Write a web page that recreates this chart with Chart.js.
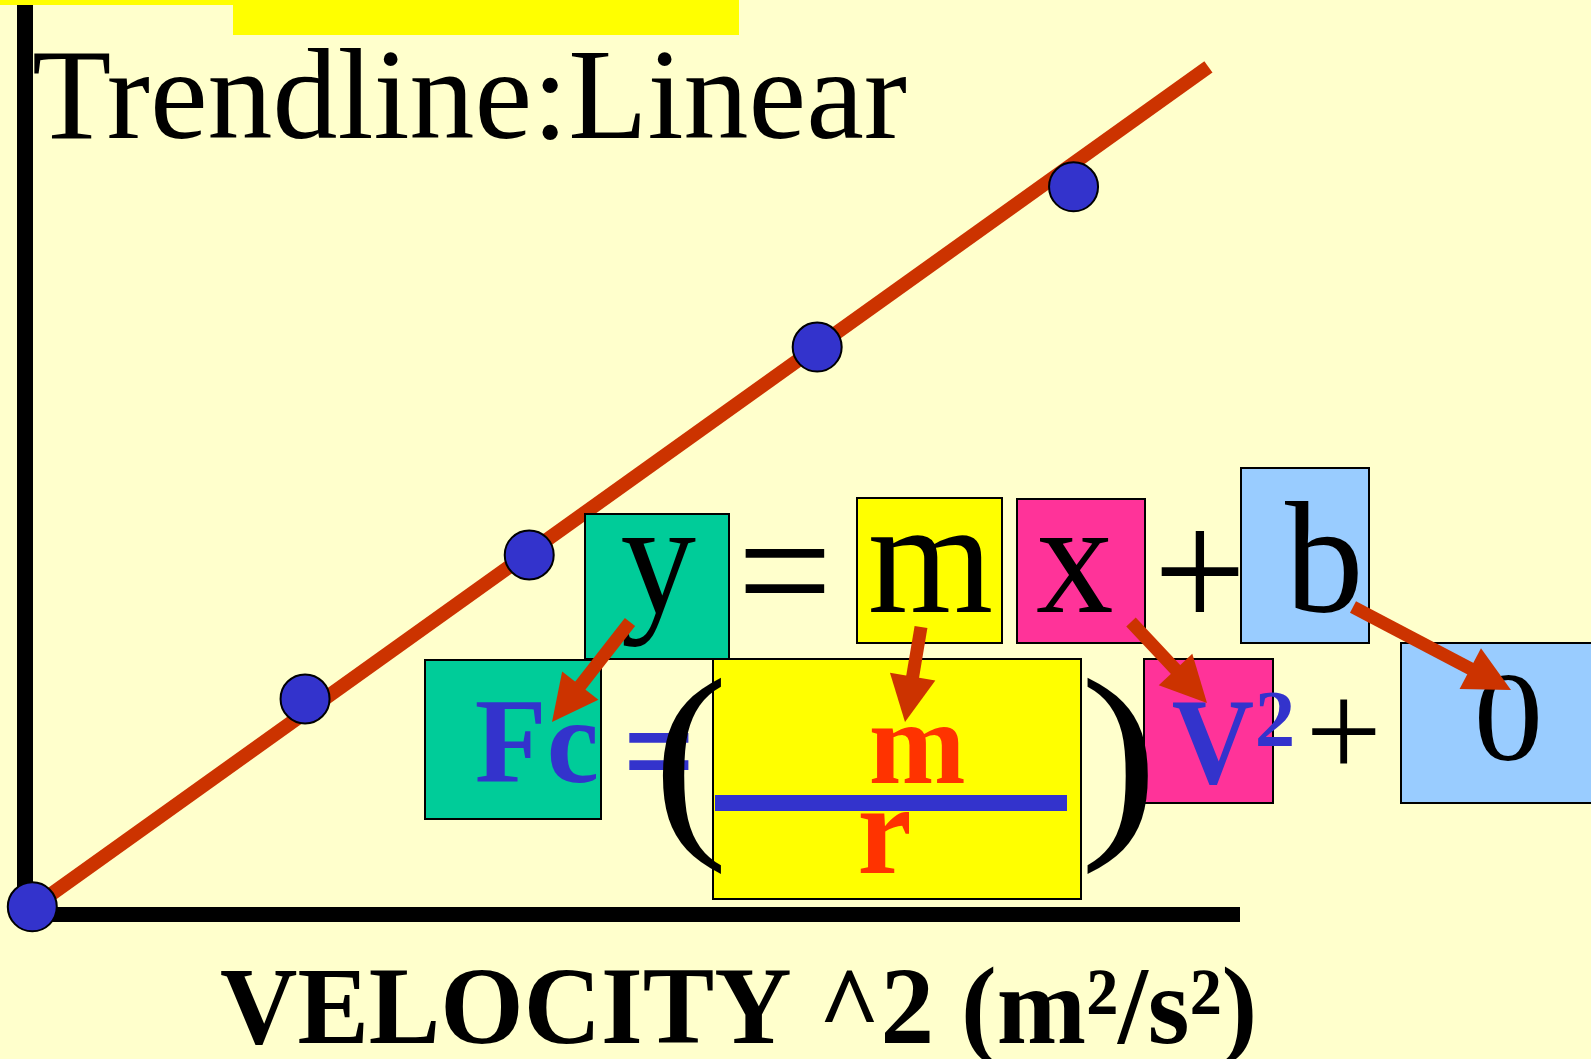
<!DOCTYPE html>
<html>
<head>
<meta charset="utf-8">
<title>Trendline: Linear</title>
<script src="https://cdn.jsdelivr.net/npm/chart.js@4.4.0/dist/chart.umd.min.js"></script>
<style>
  html, body { margin: 0; padding: 0; background: #FFFFCC; overflow: hidden; }
  #grafico { display: block; }
</style>
</head>
<body>
<canvas id="grafico" width="1591" height="1059"></canvas>
<script>
// dados (velocidade^2 x força centrípeta, unidades arbitrárias)
var velocidade2 = [0.6, 23.05, 41.5, 65.2, 86.3];
var forca = [0.9, 23.8, 39.65, 62.55, 80.2];

// linha de tendência (inicio e fim)
var linhaX = [0.6, 97.4];
var linhaY = [0.8, 93.4];

// limites dos eixos
var eixoX = [0, 100];
var eixoY = [0, 100];

var titulo = 'Trendline:Linear';
var tituloEixoX = 'VELOCITY ^2 (m\u00B2/s\u00B2)';

var FONTE = '"Liberation Serif", "Times New Roman", serif';
var VERMELHO = '#CC3300';

// desenha o texto encaixando a "tinta" numa caixa (esq, topo, dir, base)
function textoTinta(ctx, texto, peso, cor, esq, topo, dir, base) {
  ctx.font = peso + ' 100px ' + FONTE;
  ctx.textAlign = 'left';
  ctx.textBaseline = 'alphabetic';
  var m = ctx.measureText(texto);
  var larg = m.actualBoundingBoxLeft + m.actualBoundingBoxRight;
  var alt = m.actualBoundingBoxAscent + m.actualBoundingBoxDescent;
  var sx = (dir - esq) / larg;
  var sy = (base - topo) / alt;
  ctx.save();
  ctx.translate(esq + m.actualBoundingBoxLeft * sx, topo + m.actualBoundingBoxAscent * sy);
  ctx.scale(sx, sy);
  ctx.fillStyle = cor;
  ctx.fillText(texto, 0, 0);
  ctx.restore();
}

// texto pela altura das maiusculas, esticado na horizontal
function textoCap(ctx, texto, peso, cor, alturaCap, esq, dir, linhaBase) {
  ctx.font = peso + ' 100px ' + FONTE;
  ctx.textAlign = 'left';
  ctx.textBaseline = 'alphabetic';
  var tam = alturaCap / (ctx.measureText('H').actualBoundingBoxAscent / 100);
  ctx.font = peso + ' ' + tam + 'px ' + FONTE;
  var m = ctx.measureText(texto);
  var sx = (dir - esq) / (m.actualBoundingBoxLeft + m.actualBoundingBoxRight);
  ctx.save();
  ctx.translate(esq + m.actualBoundingBoxLeft * sx, linhaBase);
  ctx.scale(sx, 1);
  ctx.fillStyle = cor;
  ctx.fillText(texto, 0, 0);
  ctx.restore();
}

function caixa(ctx, x1, y1, x2, y2, cor) {
  ctx.fillStyle = cor;
  ctx.fillRect(x1, y1, x2 - x1, y2 - y1);
  ctx.strokeStyle = '#000000';
  ctx.lineWidth = 2;
  ctx.strokeRect(x1, y1, x2 - x1, y2 - y1);
}

function seta(ctx, x1, y1, x2, y2) {
  var dx = x2 - x1, dy = y2 - y1;
  var len = Math.hypot(dx, dy);
  var ux = dx / len, uy = dy / len;
  var cab = 46, meia = 23;
  var bx = x2 - ux * cab, by = y2 - uy * cab;
  ctx.strokeStyle = VERMELHO;
  ctx.lineWidth = 13;
  ctx.lineCap = 'butt';
  ctx.beginPath();
  ctx.moveTo(x1, y1);
  ctx.lineTo(bx + ux * 3, by + uy * 3);
  ctx.stroke();
  ctx.fillStyle = VERMELHO;
  ctx.beginPath();
  ctx.moveTo(x2, y2);
  ctx.lineTo(bx - uy * meia, by + ux * meia);
  ctx.lineTo(bx + uy * meia, by - ux * meia);
  ctx.closePath();
  ctx.fill();
}

var pluginSlide = {
  id: 'slide',
  beforeDatasetsDraw: function (chart) {
    var ctx = chart.ctx;
    var x0 = chart.scales.x.getPixelForValue(eixoX[0]);
    var xFim = chart.scales.x.getPixelForValue(eixoX[1]);
    var y0 = chart.scales.y.getPixelForValue(eixoY[0]);
    var yTopo = chart.scales.y.getPixelForValue(eixoY[1]);

    ctx.save();
    // faixas amarelas do topo
    ctx.fillStyle = '#FFFF00';
    ctx.fillRect(0, 0, 233, 5);
    ctx.fillRect(233, 0, 506, 35);

    // eixos
    ctx.fillStyle = '#000000';
    ctx.fillRect(x0 - 8, yTopo - 2, 16, y0 + 7 - (yTopo - 2));
    ctx.fillRect(x0 - 8, y0 - 8, xFim - (x0 - 8), 15);

    textoCap(ctx, titulo, 'normal', '#000000', 84, 34, 906, 138);
    ctx.restore();
  },
  afterDatasetsDraw: function (chart) {
    var ctx = chart.ctx;
    ctx.save();

    // y = m x + b
    caixa(ctx, 585, 514, 729, 659, '#00CC99');
    caixa(ctx, 857, 498, 1002, 643, '#FFFF00');
    caixa(ctx, 1017, 499, 1145, 643, '#FF3399');
    caixa(ctx, 1241, 468, 1369, 643, '#99CCFF');
    textoTinta(ctx, 'y', 'normal', '#000', 622, 538, 696, 647);
    textoTinta(ctx, '=', 'normal', '#000', 744, 548, 825, 592);
    textoTinta(ctx, 'm', 'normal', '#000', 871, 535, 992, 612);
    textoTinta(ctx, 'x', 'normal', '#000', 1036, 538, 1112, 612);
    textoTinta(ctx, '+', 'normal', '#000', 1160, 530, 1239, 612);
    textoTinta(ctx, 'b', 'normal', '#000', 1285, 502, 1359, 613);

    // Fc = (m/r) V^2 + 0
    caixa(ctx, 425, 660, 601, 819, '#00CC99');
    caixa(ctx, 713, 659, 1081, 899, '#FFFF00');
    caixa(ctx, 1144, 659, 1273, 803, '#FF3399');
    caixa(ctx, 1401, 643, 1600, 803, '#99CCFF');
    textoTinta(ctx, 'Fc', 'bold', '#3333CC', 476, 703, 596, 783);
    textoTinta(ctx, '=', 'bold', '#3333CC', 628, 733, 689, 770);
    textoTinta(ctx, '(', 'normal', '#000', 662, 677, 723, 875);
    textoTinta(ctx, 'm', 'bold', '#FF3300', 871, 727, 964, 783);
    ctx.fillStyle = '#3333CC';
    ctx.fillRect(715, 795, 352, 16);
    textoTinta(ctx, 'r', 'bold', '#FF3300', 860, 812, 910, 873);
    textoTinta(ctx, ')', 'normal', '#000', 1087, 677, 1148, 875);
    textoTinta(ctx, 'V', 'bold', '#3333CC', 1173, 703, 1254, 785);
    textoTinta(ctx, '2', 'bold', '#3333CC', 1258, 693, 1292, 747);
    textoTinta(ctx, '+', 'normal', '#000', 1311, 698, 1376, 763);
    textoTinta(ctx, '0', 'normal', '#000', 1478, 677, 1539, 763);

    // setas
    seta(ctx, 630, 622, 552, 722);
    seta(ctx, 921, 627, 905, 722);
    seta(ctx, 1131, 622, 1207, 703);
    seta(ctx, 1353, 607, 1511, 690);

    // titulo do eixo x
    textoCap(ctx, tituloEixoX, 'bold', '#000000', 71, 221, 1253, 1043);
    ctx.restore();
  }
};

var pontos = velocidade2.map(function (v, i) { return { x: v, y: forca[i] }; });
var tendencia = linhaX.map(function (v, i) { return { x: v, y: linhaY[i] }; });

var config = {
  type: 'scatter',
  data: {
    datasets: [{
      label: 'Dados',
      data: pontos,
      pointRadius: 24.5,
      pointHoverRadius: 24.5,
      backgroundColor: '#3333CC',
      borderColor: '#000000',
      borderWidth: 2,
      clip: false
    }, {
      label: 'Linear',
      data: tendencia,
      showLine: true,
      pointRadius: 0,
      borderColor: VERMELHO,
      borderWidth: 14,
      borderCapStyle: 'butt',
      fill: false,
      clip: false
    }]
  },
  options: {
    responsive: false,
    devicePixelRatio: 1,
    animation: false,
    events: [],
    layout: {
      autoPadding: false,
      padding: { left: 25, right: 351, top: 7, bottom: 144 }
    },
    scales: {
      x: { type: 'linear', min: eixoX[0], max: eixoX[1], display: false },
      y: { type: 'linear', min: eixoY[0], max: eixoY[1], display: false }
    },
    plugins: {
      legend: { display: false },
      tooltip: { enabled: false },
      title: { display: false }
    }
  },
  plugins: [pluginSlide]
};

var grafico = new Chart(document.getElementById('grafico'), config);
</script>
</body>
</html>
